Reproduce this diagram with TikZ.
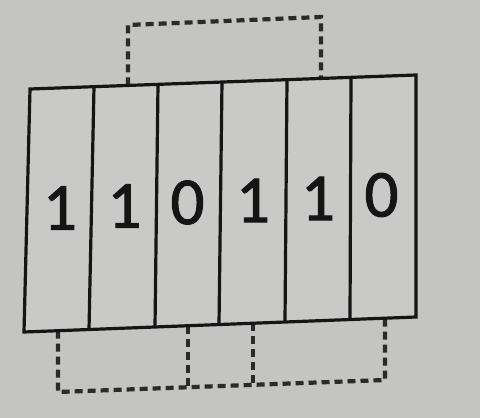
\documentclass[tikz,border=0pt]{standalone}
\usepackage{fontspec}
\setmainfont{Carlito}
\newfontfamily\digitfont{Carlito}[FakeBold=1.5]
\definecolor{bg}{HTML}{C4C4C2}
\definecolor{cellbg}{HTML}{C9C9C7}
\definecolor{ink}{HTML}{151515}
\definecolor{dashink}{HTML}{2A2A2A}
\begin{document}
\begin{tikzpicture}[x=1pt,y=-1pt,
  cellline/.style={draw=ink,line width=3.2pt,line join=miter},
  dashline/.style={draw=dashink,line width=4.2pt,dash pattern=on 8pt off 5pt},
  digit/.style={inner sep=0pt,text=ink,font=\digitfont\fontsize{67}{67}\selectfont}]
\fill[bg] (0,0) rectangle (480,418);
\useasboundingbox (0,0) rectangle (480,418);
% top corners of cells
\coordinate (T0) at (30,89);
\coordinate (T1) at (94,86.7);
\coordinate (T2) at (158,84.4);
\coordinate (T3) at (222,82.0);
\coordinate (T4) at (287,79.7);
\coordinate (T5) at (351,77.4);
\coordinate (T6) at (416,75);
% bottom corners of cells
\coordinate (B0) at (24,332);
\coordinate (B1) at (89,329.5);
\coordinate (B2) at (155,327.0);
\coordinate (B3) at (219,324.5);
\coordinate (B4) at (285,322.0);
\coordinate (B5) at (350,319.5);
\coordinate (B6) at (416,317);
% cell fill
\fill[cellbg] (T0) -- (T6) -- (B6) -- (B0) -- cycle;
% dashed connectors top
\coordinate (ua) at (128,85.4);
\coordinate (ub) at (321,78.4);
\coordinate (uc) at (128,25);
\coordinate (ud) at (321,17);
\draw[dashline] (ua) -- (uc) -- (ud) -- (ub);
% dashed connectors bottom
\coordinate (la) at (58,330.7);
\coordinate (lb) at (188,325.7);
\coordinate (lc) at (253,323.2);
\coordinate (ld) at (385,318.2);
\coordinate (ma) at (58,392);
\coordinate (mb) at (188,387.2);
\coordinate (mc) at (253,384.8);
\coordinate (md) at (385,380);
\draw[dashline] (la) -- (ma) -- (md) -- (ld);
\draw[dashline] (lb) -- (mb);
\draw[dashline] (lc) -- (mc);
% cells
\draw[cellline] (T0) -- (T6) -- (B6) -- (B0) -- cycle;
\foreach \i in {1,...,5} { \draw[cellline] (T\i) -- (B\i); }
% digits
\node[digit] (d1) at (60,208) {1};
\node[digit] (d2) at (124.5,206) {1};
\node[digit] (d3) at (187.5,202.5) {0};
\node[digit] (d4) at (253,200.5) {1};
\node[digit] (d5) at (318,198.5) {1};
\node[digit] (d6) at (381.5,195) {0};
\end{tikzpicture}
\end{document}
